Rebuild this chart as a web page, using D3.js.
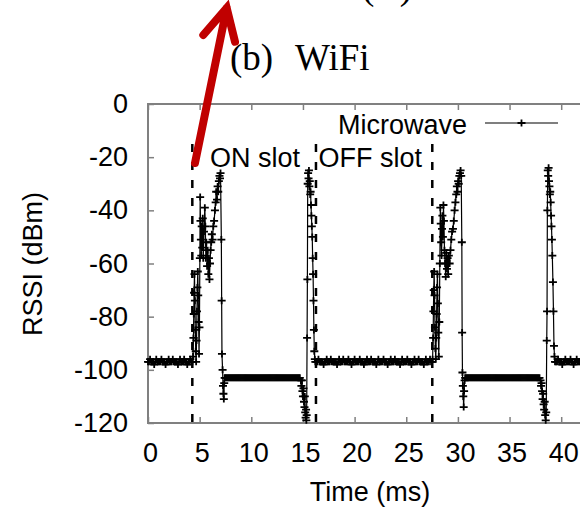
<!DOCTYPE html>
<html lang="en">
<head>
    <meta charset="UTF-8">
    <title>WiFi RSSI - Microwave</title>
    <script src="https://d3js.org/d3.v7.min.js"></script>
    <style>
        body {
            margin: 0;
            background: #fff;
        }

        svg {
            display: block;
        }

        text {
            font-family: "Liberation Sans", Arial, sans-serif;
            font-size: 27px;
            fill: #000;
        }

        .caption {
            font-family: "Liberation Serif", "Times New Roman", serif;
            font-size: 37px;
        }

        .frame {
            fill: none;
            stroke: #808080;
            stroke-width: 2px;
        }

        .tick line {
            stroke: #808080;
            stroke-width: 1.5px;
        }

        .trace {
            fill: none;
            stroke: #000;
            stroke-width: 1.2px;
        }

        .mark {
            fill: none;
            stroke: #000;
            stroke-width: 1.8px;
        }

        .slot {
            stroke: #000;
            stroke-width: 2.5px;
            stroke-dasharray: 8 10;
        }
    </style>
</head>
<body>
<script>
    // ---- data ----
    // flat parts were sampled every 0.1 ms
    const SAMPLE_STEP = 0.1;

    // idle floor, 0.0 - 4.2 ms
    const idleA = [
        -97, -97, -96, -97, -97, -97, -98, -97, -96, -97,
        -97, -97, -97, -96, -97, -97, -97, -98, -97, -97,
        -96, -97, -97, -97, -96, -97, -97, -97, -97, -98,
        -97, -96, -97, -97, -97, -96, -97, -97, -98, -97,
        -97, -96, -97
    ];

    // ON slot burst 1 [ms, dBm]
    const onBurst1 = [
        [4.30, -97], [4.36, -95], [4.40, -88], [4.43, -79], [4.46, -71], [4.50, -64], [4.54, -74], [4.58, -85],
        [4.62, -93], [4.66, -97], [4.70, -89], [4.74, -78], [4.78, -69], [4.82, -63], [4.86, -72], [4.90, -82],
        [4.94, -94], [4.98, -84], [5.02, -58], [5.05, -35], [5.08, -44], [5.12, -51], [5.16, -57], [5.20, -46],
        [5.25, -54], [5.30, -43], [5.35, -58], [5.42, -48], [5.50, -39], [5.55, -46], [5.60, -58], [5.65, -52],
        [5.72, -61], [5.78, -55], [5.84, -64], [5.90, -58], [5.95, -66], [6.00, -60], [6.06, -55], [6.12, -52],
        [6.18, -49], [6.25, -51], [6.32, -46], [6.40, -44], [6.48, -40], [6.55, -37], [6.60, -33], [6.68, -36],
        [6.74, -31], [6.80, -33], [6.86, -29], [6.92, -27], [6.97, -28], [7.02, -26], [7.10, -51], [7.13, -74],
        [7.16, -94], [7.22, -100], [7.26, -106], [7.30, -109], [7.34, -111], [7.38, -105], [7.42, -103]
    ];

    // microwave-on floor, 7.5 - 14.7 ms
    const floorB = [
        -103, -103, -103, -103, -103, -103, -103, -103, -103, -103,
        -103, -103, -103, -103, -103, -103, -103, -103, -103, -103,
        -103, -103, -103, -103, -103, -103, -103, -103, -103, -103,
        -103, -103, -103, -103, -103, -103, -103, -103, -103, -103,
        -103, -103, -103, -103, -103, -103, -103, -103, -103, -103,
        -103, -103, -103, -103, -103, -103, -103, -103, -103, -103,
        -103, -103, -103, -103, -103, -103, -103, -103, -103, -103,
        -103, -103, -103
    ];

    // dip and spike at the start of OFF slot 1 [ms, dBm]
    const offSpike1 = [
        [14.80, -104], [14.85, -106], [14.90, -104], [14.95, -108], [15.00, -110], [15.05, -107], [15.10, -112],
        [15.15, -114], [15.18, -110], [15.22, -116], [15.26, -118], [15.30, -115], [15.33, -119], [15.36, -117],
        [15.40, -88], [15.43, -66], [15.46, -30], [15.50, -26], [15.54, -28], [15.58, -25], [15.62, -31],
        [15.66, -29], [15.70, -34], [15.74, -33], [15.78, -38], [15.82, -42], [15.86, -46], [15.90, -50],
        [15.94, -58], [15.98, -64], [16.02, -74], [16.06, -85], [16.10, -93], [16.15, -96], [16.20, -97]
    ];

    // idle floor, 16.3 - 27.5 ms
    const idleC = [
        -97, -97, -96, -97, -97, -97, -97, -98, -97, -97,
        -96, -97, -97, -97, -96, -97, -97, -97, -97, -97,
        -98, -97, -96, -97, -97, -97, -96, -97, -97, -97,
        -97, -96, -97, -97, -98, -97, -97, -96, -97, -97,
        -97, -97, -96, -97, -97, -97, -98, -97, -97, -96,
        -97, -97, -97, -96, -97, -97, -97, -97, -98, -97,
        -96, -97, -97, -97, -97, -96, -97, -97, -97, -98,
        -97, -97, -96, -97, -97, -97, -96, -97, -97, -97,
        -97, -98, -97, -96, -97, -97, -97, -97, -96, -97,
        -97, -97, -98, -97, -97, -96, -97, -97, -97, -96,
        -97, -97, -97, -97, -98, -97, -96, -97, -97, -97,
        -96, -97, -97
    ];

    // ON slot burst 2 [ms, dBm]
    const onBurst2 = [
        [27.55, -96], [27.60, -88], [27.63, -78], [27.66, -70], [27.70, -63], [27.74, -72], [27.78, -84],
        [27.82, -92], [27.86, -96], [27.90, -88], [27.94, -79], [27.98, -69], [28.02, -64], [28.06, -75],
        [28.10, -86], [28.15, -95], [28.20, -82], [28.25, -60], [28.30, -39], [28.34, -45], [28.38, -52],
        [28.42, -57], [28.46, -47], [28.50, -42], [28.55, -50], [28.60, -38], [28.65, -44], [28.70, -55],
        [28.76, -60], [28.82, -65], [28.88, -56], [28.94, -62], [29.00, -58], [29.06, -64], [29.12, -57],
        [29.20, -60], [29.28, -55], [29.36, -51], [29.44, -48], [29.52, -47], [29.60, -44], [29.68, -40],
        [29.76, -37], [29.84, -34], [29.90, -31], [29.96, -33], [30.02, -29], [30.08, -30], [30.14, -27],
        [30.20, -26], [30.26, -25], [30.32, -27], [30.38, -52], [30.41, -86], [30.44, -101], [30.48, -106],
        [30.52, -110], [30.56, -114], [30.60, -108], [30.65, -104], [30.70, -103]
    ];

    // microwave-on floor, 30.8 - 37.9 ms
    const floorD = [
        -103, -103, -103, -103, -103, -103, -103, -103, -103, -103,
        -103, -103, -103, -103, -103, -103, -103, -103, -103, -103,
        -103, -103, -103, -103, -103, -103, -103, -103, -103, -103,
        -103, -103, -103, -103, -103, -103, -103, -103, -103, -103,
        -103, -103, -103, -103, -103, -103, -103, -103, -103, -103,
        -103, -103, -103, -103, -103, -103, -103, -103, -103, -103,
        -103, -103, -103, -103, -103, -103, -103, -103, -103, -103,
        -103, -103
    ];

    // dip and spike at the start of OFF slot 2 [ms, dBm]
    const offSpike2 = [
        [38.00, -104], [38.05, -106], [38.10, -105], [38.15, -108], [38.20, -111], [38.25, -109], [38.30, -113],
        [38.35, -115], [38.40, -112], [38.45, -117], [38.50, -119], [38.55, -116], [38.60, -89], [38.63, -78],
        [38.66, -40], [38.70, -25], [38.74, -27], [38.78, -24], [38.82, -29], [38.86, -31], [38.90, -34],
        [38.94, -33], [38.98, -37], [39.02, -42], [39.06, -46], [39.10, -51], [39.14, -57], [39.20, -67],
        [39.25, -78], [39.30, -91], [39.35, -95], [39.40, -97]
    ];

    // idle floor, 39.5 - 43.0 ms
    const idleE = [
        -97, -97, -96, -97, -97, -97, -98, -97, -97, -96,
        -97, -97, -97, -97, -96, -97, -97, -98, -97, -97,
        -96, -97, -97, -97, -97, -96, -97, -97, -97, -98,
        -97, -97, -96, -97, -97, -97
    ];

    // slot boundaries (dashed) in ms
    const slotEdges = [4.29, 16.26, 27.52];

    const xTicks = [0, 5, 10, 15, 20, 25, 30, 35, 40];
    const yTicks = [-120, -100, -80, -60, -40, -20, 0];
    const seriesName = 'Microwave';

    // ---- layout ----
    const width = 580;
    const height = 510;

    const x = d3.scaleLinear().domain([0, 40]).range([148, 561.2]);   // right side runs past the window
    const y = d3.scaleLinear().domain([-120, 0]).range([423, 104]);
    const xMax = 45;

    // flat runs -> [ms, dBm]
    function flatRun(start, readings) {
        return readings.map((v, i) => [start + i * SAMPLE_STEP, v]);
    }

    const trace = [].concat(
        flatRun(0, idleA),
        onBurst1,
        flatRun(7.5, floorB),
        offSpike1,
        flatRun(16.3, idleC),
        onBurst2,
        flatRun(30.8, floorD),
        offSpike2,
        flatRun(39.5, idleE)
    );

    const svg = d3.select('body').append('svg')
        .attr('width', width)
        .attr('height', height);

    // plain hyphen for negatives, like the original
    const tickText = d => String(d);

    // x ticks, bottom and top, pointing inward
    const xAxisB = svg.append('g')
        .attr('transform', 'translate(0,' + y(-120) + ')')
        .call(d3.axisBottom(x).tickValues(xTicks).tickSize(-6).tickPadding(19.5).tickFormat(tickText));
    xAxisB.select('.domain').remove();
    xAxisB.selectAll('text').attr('dx', 2);

    const xAxisT = svg.append('g')
        .attr('transform', 'translate(0,' + y(0) + ')')
        .call(d3.axisTop(x).tickValues(xTicks).tickSize(-6).tickFormat(''));
    xAxisT.select('.domain').remove();

    const yAxis = svg.append('g')
        .attr('transform', 'translate(' + x(0) + ',0)')
        .call(d3.axisLeft(y).tickValues(yTicks).tickSize(-6).tickPadding(20).tickFormat(tickText));
    yAxis.select('.domain').remove();

    svg.selectAll('.tick text')
        .style('font-family', '"Liberation Sans", Arial, sans-serif')
        .style('font-size', '27px')
        .attr('fill', '#000');

    // plot frame
    svg.append('rect')
        .attr('class', 'frame')
        .attr('x', x(0))
        .attr('y', y(0))
        .attr('width', x(xMax) - x(0))
        .attr('height', y(-120) - y(0));

    // axis titles
    svg.append('text')
        .attr('x', 370)
        .attr('y', 501)
        .attr('text-anchor', 'middle')
        .text('Time (ms)');

    svg.append('text')
        .attr('transform', 'translate(41.5,264) rotate(-90)')
        .attr('text-anchor', 'middle')
        .text('RSSI (dBm)');

    // slot boundaries
    svg.append('g').selectAll('line')
        .data(slotEdges)
        .enter()
        .append('line')
        .attr('class', 'slot')
        .attr('x1', d => x(d))
        .attr('x2', d => x(d))
        .attr('y1', y(-15))
        .attr('y2', y(-120));

    svg.append('text').attr('x', 210).attr('y', 166.5).text('ON slot');
    svg.append('text').attr('x', 318.5).attr('y', 166.5).text('OFF slot');

    // the trace
    const line = d3.line()
        .x(d => x(d[0]))
        .y(d => y(d[1]));

    svg.append('path')
        .datum(trace)
        .attr('class', 'trace')
        .attr('d', line);

    const plus = 'M-4,0H4M0,-3.5V3.5';
    svg.append('g').selectAll('path')
        .data(trace)
        .enter()
        .append('path')
        .attr('class', 'mark')
        .attr('transform', d => 'translate(' + x(d[0]) + ',' + y(d[1]) + ')')
        .attr('d', plus);

    // legend
    const legend = svg.append('g');
    legend.append('text')
        .attr('x', 467)
        .attr('y', 134)
        .attr('text-anchor', 'end')
        .text(seriesName);
    legend.append('line')
        .attr('class', 'trace')
        .attr('x1', 485).attr('x2', 558)
        .attr('y1', 123).attr('y2', 123);
    legend.append('path')
        .attr('class', 'mark')
        .attr('transform', 'translate(521.5,123)')
        .attr('d', plus);

    // captions around the figure
    svg.append('text')
        .attr('class', 'caption')
        .attr('x', 362)
        .attr('y', -1.5)
        .attr('textLength', 50)
        .attr('lengthAdjust', 'spacing')
        .text('(a)');

    svg.append('text').attr('class', 'caption').attr('x', 230).attr('y', 70).text('(b)');
    svg.append('text').attr('class', 'caption').attr('x', 295).attr('y', 70).text('WiFi');

    // red arrow on top
    svg.append('path')
        .attr('d', 'M195,163L226.7,8M203.3,35L226.7,8L235,41.7')
        .attr('fill', 'none')
        .attr('stroke', '#c00000')
        .attr('stroke-width', 8)
        .attr('stroke-linecap', 'round')
        .attr('stroke-linejoin', 'miter');
</script>
</body>
</html>
